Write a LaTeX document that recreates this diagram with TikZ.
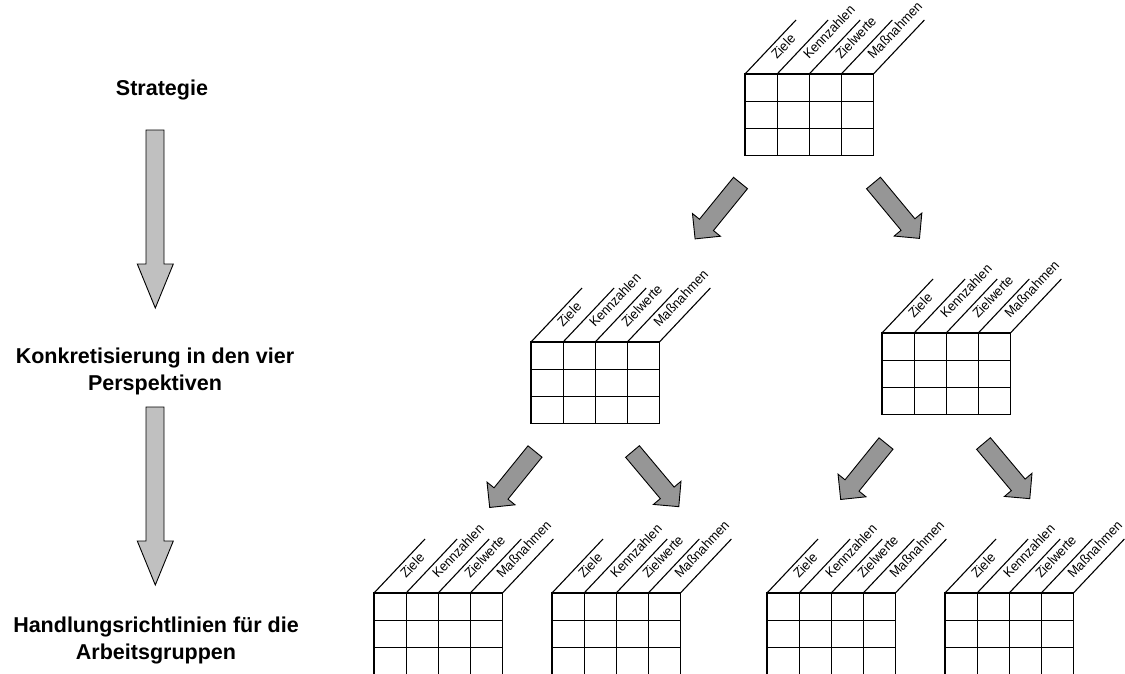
\documentclass[tikz,border=0pt]{standalone}
\usepackage{fontspec}
\setmainfont{Liberation Sans}
\newfontfamily\lblfont[FakeStretch=0.95]{Liberation Sans}
\definecolor{arrowlight}{RGB}{192,192,192}
\definecolor{arrowdark}{RGB}{150,150,150}
\tikzset{
  gridline/.style={line width=1.1pt, draw=black, line cap=rect},
  lbl/.style={font=\lblfont\fontsize{13.5}{16}\selectfont, inner sep=0pt, anchor=base west, rotate=46.6},
  lefttext/.style={font=\fontsize{21.5}{26.5}\selectfont\bfseries, align=center, inner sep=0pt},
  varrow/.style={fill=arrowlight, draw=black, line width=0.9pt, line join=miter},
  darrow/.style={fill=arrowdark, draw=black, line width=0.9pt, line join=miter},
}
% #1 name, #2 x, #3 y, #4 depth of vertical lines, #5 1 = draw bottom line
\newcommand\bsctab[5]{%
  \begin{scope}[shift={(#2,#3)}]
    \coordinate (#1) at (0,0);
    \foreach \i in {0,...,4} {
      \draw[gridline] (\i*32.1,0) -- (\i*32.1,#4);
      \draw[gridline, line cap=butt] (\i*32.1,0) -- ++(51,-54);
    }
    \foreach \j in {0,1,2} \draw[gridline] (0,\j*27.3) -- (128.4,\j*27.3);
    \ifnum#5=1 \draw[gridline] (0,81.9) -- (128.4,81.9);\fi
    \node[lbl] (#1-a) at (32,-14) {Ziele};
    \node[lbl] (#1-b) at (32.1+32,-14) {Kennzahlen};
    \node[lbl] (#1-c) at (64.2+32,-14) {Zielwerte};
    \node[lbl] (#1-d) at (96.3+32,-14) {Maßnahmen};
  \end{scope}}
% #1 tail centre, #2 angle
\newcommand\fatarrow[2]{%
  \begin{scope}[shift={(#1)}, rotate=#2]
    \draw[darrow] (0,9) -- (54,9) -- (54,18) -- (72,0) -- (54,-18) -- (54,-9) -- (0,-9) -- cycle;
  \end{scope}}
\begin{document}
\begin{tikzpicture}[x=1pt, y=-1pt]
\useasboundingbox (0,0) rectangle (1125,673);

% left column texts
\node[lefttext, anchor=base] (strat) at (162,95) {Strategie};
\node[lefttext, anchor=base] (konk) at (155,390) {Konkretisierung in den vier\\Perspektiven};
\node[lefttext, anchor=base] (hand) at (156,659) {Handlungsrichtlinien für die\\Arbeitsgruppen};

% vertical arrows
\draw[varrow] (146,130) -- (164,130) -- (164,264) -- (173.3,264) -- (155.3,308) -- (137.3,264) -- (146,264) -- cycle;
\draw[varrow] (146,407) -- (164,407) -- (164,541) -- (173.3,541) -- (155.3,585) -- (137.3,541) -- (146,541) -- cycle;

% tables
\bsctab{t0}{745}{74}{81.9}{1}
\bsctab{t1}{531}{342}{81.9}{1}
\bsctab{t2}{882}{333}{81.9}{1}
\bsctab{t3}{374}{593}{80}{0}
\bsctab{t4}{552}{593}{80}{0}
\bsctab{t5}{767}{593}{80}{0}
\bsctab{t6}{945}{593}{80}{0}

% diagonal arrows
\fatarrow{740.5,183}{230.9}
\fatarrow{873.5,183}{-50.3}
\fatarrow{535,451.5}{231}
\fatarrow{632.5,451.5}{-50}
\fatarrow{886,443.5}{231}
\fatarrow{983.5,443.5}{-50}
\end{tikzpicture}
\end{document}
